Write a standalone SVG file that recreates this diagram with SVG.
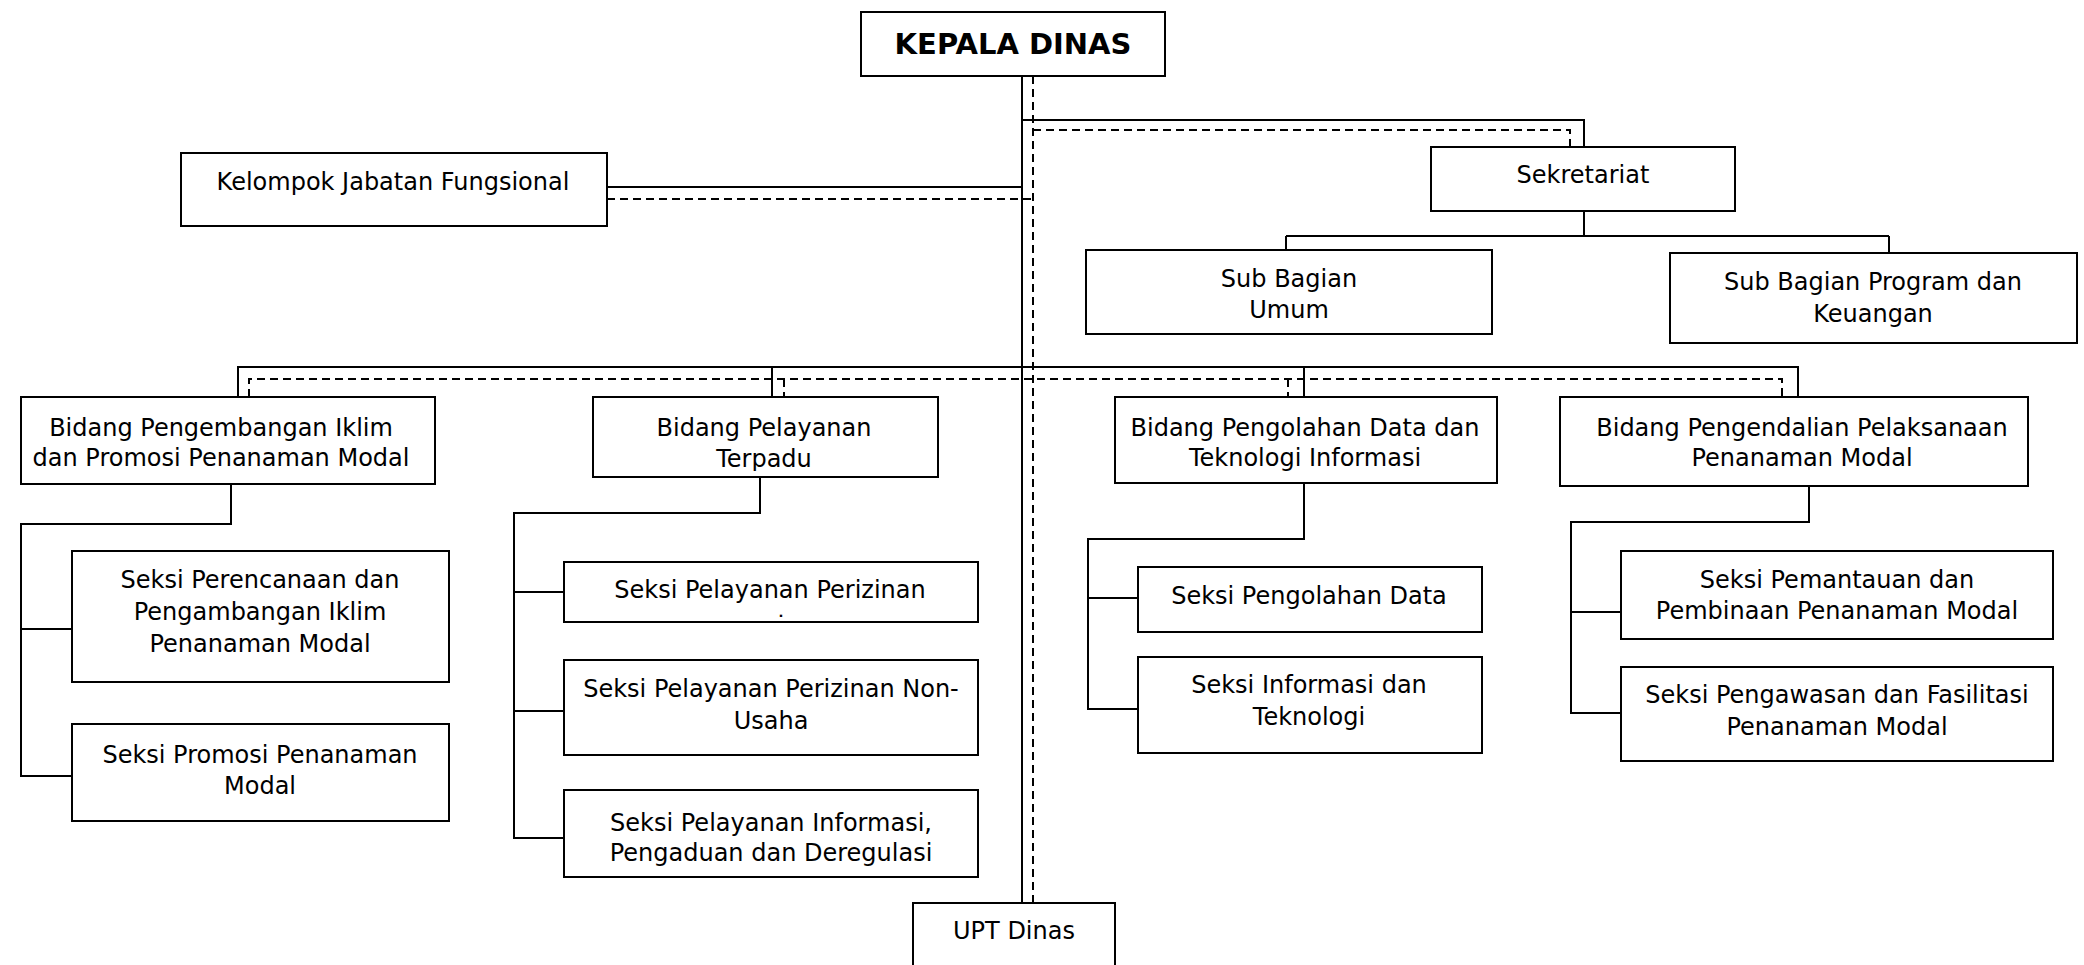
<svg xmlns="http://www.w3.org/2000/svg" width="2084" height="965" viewBox="0 0 2084 965">
<style>
.bg{fill:#ffffff}
.box{fill:#ffffff;stroke:#000000;stroke-width:2}
.t{font-family:"DejaVu Sans","Liberation Sans",sans-serif;font-size:24px;fill:#000000;text-anchor:middle}
.tb{font-family:"DejaVu Sans","Liberation Sans",sans-serif;font-size:29px;font-weight:bold;fill:#000000;text-anchor:middle}
.dot{font-family:"DejaVu Sans","Liberation Sans",sans-serif;font-size:13px;font-weight:bold;fill:#000000;text-anchor:middle}
.solid{fill:none;stroke:#000000;stroke-width:2}
.dash{fill:none;stroke:#000000;stroke-width:2;stroke-dasharray:8 5}
</style>
<defs>
<clipPath id="clipTerpadu"><rect x="593" y="397" width="345" height="74"/></clipPath>
</defs>
<rect class="bg" x="0" y="0" width="2084" height="965"/>
<g id="connectors">
<path class="solid" d="M1022,76 V903"/>
<path class="dash" d="M1033,76 V903"/>
<path class="solid" d="M1022,120 H1584 V147"/>
<path class="dash" d="M1033,130 H1570 V147"/>
<path class="solid" d="M607,187 H1022"/>
<path class="dash" d="M607,199 H1033"/>
<path class="solid" d="M1584,211 V236 M1286,236 H1889 M1286,236 V250 M1889,236 V253"/>
<path class="solid" d="M238,397 V367 H1798 V397 M772,367 V397 M1304,367 V397"/>
<path class="dash" d="M249,397 V379 H1782 V397 M784,379 V397 M1288,379 V397"/>
<path class="solid" d="M231,484 V524 H21 V776 H72 M21,629 H72"/>
<path class="solid" d="M760,477 V513 H514 V838 H564 M514,592 H564 M514,711 H564"/>
<path class="solid" d="M1304,483 V539 H1088 V709 H1138 M1088,598 H1138"/>
<path class="solid" d="M1809,486 V522 H1571 V713 H1621 M1571,612 H1621"/>
</g>
<g id="kepala-dinas">
<rect class="box" x="861" y="12" width="304" height="64"/>
<text class="tb" x="1013" y="54">KEPALA DINAS</text>
</g>
<g id="kelompok-jabatan-fungsional">
<rect class="box" x="181" y="153" width="426" height="73"/>
<text class="t" x="393" y="190">Kelompok Jabatan Fungsional</text>
</g>
<g id="sekretariat">
<rect class="box" x="1431" y="147" width="304" height="64"/>
<text class="t" x="1583" y="183">Sekretariat</text>
</g>
<g id="sub-bagian-umum">
<rect class="box" x="1086" y="250" width="406" height="84"/>
<text class="t" x="1289" y="287">Sub Bagian</text>
<text class="t" x="1289" y="318">Umum</text>
</g>
<g id="sub-bagian-program">
<rect class="box" x="1670" y="253" width="407" height="90"/>
<text class="t" x="1873" y="290">Sub Bagian Program dan</text>
<text class="t" x="1873" y="322">Keuangan</text>
</g>
<g id="bidang-pengembangan">
<rect class="box" x="21" y="397" width="414" height="87"/>
<text class="t" x="221" y="436">Bidang Pengembangan Iklim</text>
<text class="t" x="221" y="466">dan Promosi Penanaman Modal</text>
</g>
<g id="bidang-pelayanan">
<rect class="box" x="593" y="397" width="345" height="80"/>
<text class="t" x="764" y="436">Bidang Pelayanan</text>
<text class="t" x="764" y="467" clip-path="url(#clipTerpadu)">Terpadu</text>
</g>
<g id="bidang-pengolahan">
<rect class="box" x="1115" y="397" width="382" height="86"/>
<text class="t" x="1305" y="436">Bidang Pengolahan Data dan</text>
<text class="t" x="1305" y="466">Teknologi Informasi</text>
</g>
<g id="bidang-pengendalian">
<rect class="box" x="1560" y="397" width="468" height="89"/>
<text class="t" x="1802" y="436">Bidang Pengendalian Pelaksanaan</text>
<text class="t" x="1802" y="466">Penanaman Modal</text>
</g>
<g id="seksi-perencanaan">
<rect class="box" x="72" y="551" width="377" height="131"/>
<text class="t" x="260" y="588">Seksi Perencanaan dan</text>
<text class="t" x="260" y="620">Pengambangan Iklim</text>
<text class="t" x="260" y="652">Penanaman Modal</text>
</g>
<g id="seksi-promosi">
<rect class="box" x="72" y="724" width="377" height="97"/>
<text class="t" x="260" y="763">Seksi Promosi Penanaman</text>
<text class="t" x="260" y="794">Modal</text>
</g>
<g id="seksi-pelayanan-perizinan">
<rect class="box" x="564" y="562" width="414" height="60"/>
<text class="t" x="770" y="598">Seksi Pelayanan Perizinan</text>
<text class="dot" x="781" y="617">.</text>
</g>
<g id="seksi-pelayanan-non-usaha">
<rect class="box" x="564" y="660" width="414" height="95"/>
<text class="t" x="771" y="697">Seksi Pelayanan Perizinan Non-</text>
<text class="t" x="771" y="729">Usaha</text>
</g>
<g id="seksi-pelayanan-informasi">
<rect class="box" x="564" y="790" width="414" height="87"/>
<text class="t" x="771" y="831">Seksi Pelayanan Informasi,</text>
<text class="t" x="771" y="861">Pengaduan dan Deregulasi</text>
</g>
<g id="seksi-pengolahan-data">
<rect class="box" x="1138" y="567" width="344" height="65"/>
<text class="t" x="1309" y="604">Seksi Pengolahan Data</text>
</g>
<g id="seksi-informasi-teknologi">
<rect class="box" x="1138" y="657" width="344" height="96"/>
<text class="t" x="1309" y="693">Seksi Informasi dan</text>
<text class="t" x="1309" y="725">Teknologi</text>
</g>
<g id="seksi-pemantauan">
<rect class="box" x="1621" y="551" width="432" height="88"/>
<text class="t" x="1837" y="588">Seksi Pemantauan dan</text>
<text class="t" x="1837" y="619">Pembinaan Penanaman Modal</text>
</g>
<g id="seksi-pengawasan">
<rect class="box" x="1621" y="667" width="432" height="94"/>
<text class="t" x="1837" y="703">Seksi Pengawasan dan Fasilitasi</text>
<text class="t" x="1837" y="735">Penanaman Modal</text>
</g>
<g id="upt-dinas">
<rect class="box" x="913" y="903" width="202" height="75"/>
<text class="t" x="1014" y="939">UPT Dinas</text>
</g>
</svg>
